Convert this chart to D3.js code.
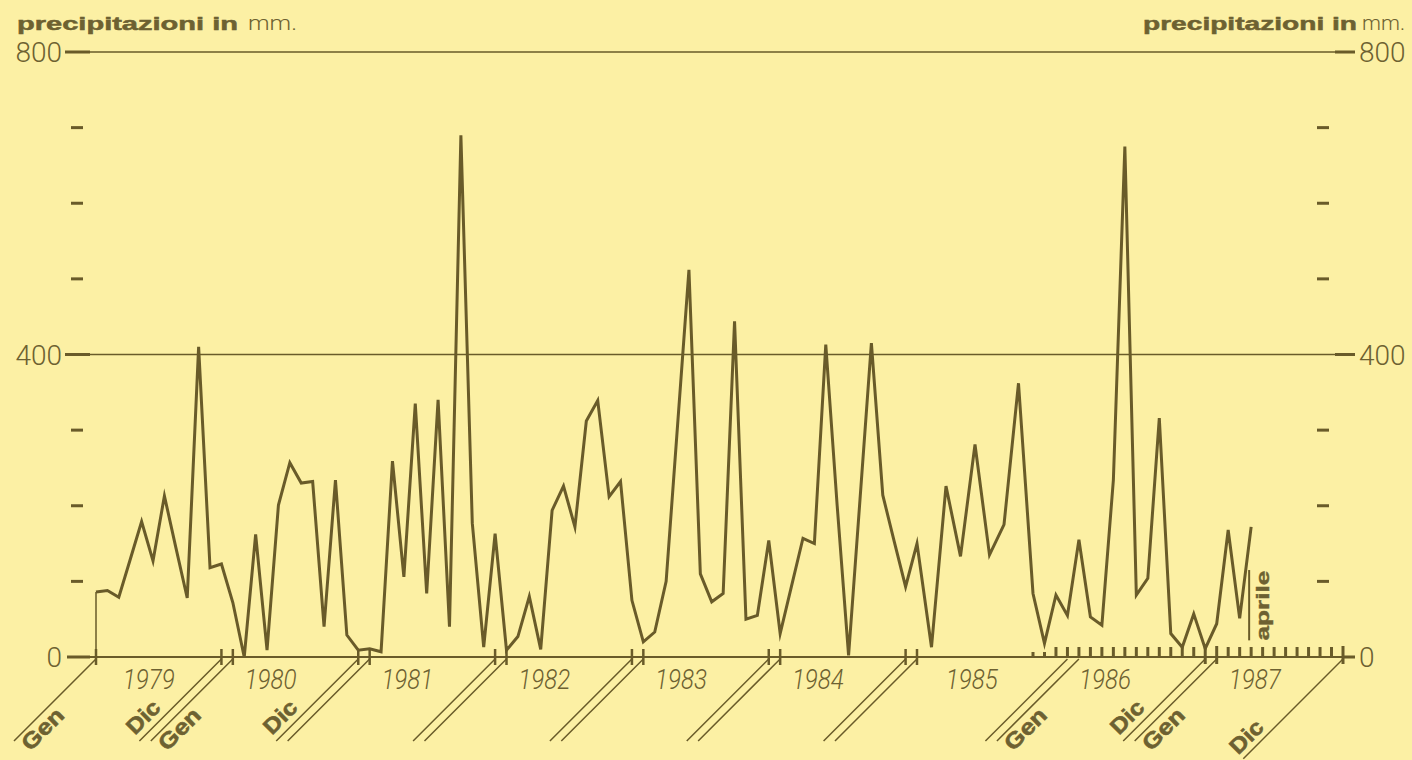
<!DOCTYPE html>
<html><head><meta charset="utf-8">
<script src="https://cdn.jsdelivr.net/npm/d3@7"></script>
<style>
html,body{margin:0;padding:0;background:#fcf0a4;}
svg{display:block;}
</style></head><body>
<svg id="c" width="1412" height="760"></svg>
<script>
// ---- data (monthly precipitation in mm, Jan 1979 - Apr 1987) ----
const years = [1979, 1980, 1981, 1982, 1983, 1984, 1985, 1986, 1987];
const rain1979 = [86, 88, 79, 129, 179, 127, 213, 145, 78, 410, 118, 123];
const rain1980 = [72, 0, 162, 9, 201, 257, 230, 232, 40, 234, 29, 9];
const rain1981 = [11, 7, 259, 106, 335, 84, 340, 40, 690, 177, 13, 163];
const rain1982 = [9, 27, 80, 10, 194, 226, 172, 312, 339, 212, 232, 75];
const rain1983 = [20, 33, 100, 306, 512, 110, 73, 84, 444, 50, 55, 154];
const rain1984 = [31, 94, 157, 150, 413, 200, 2, 208, 415, 214, 153, 93];
const rain1985 = [150, 13, 226, 133, 281, 135, 175, 362, 84, 18, 82, 55];
const rain1986 = [155, 53, 42, 234, 675, 82, 104, 316, 31, 13, 57, 11];
const rain1987 = [44, 168, 51, 172];
const yTicks = [0, 100, 200, 300, 400, 500, 600, 700, 800];
const yLabels = [0, 400, 800];
const titleBold = "precipitazioni in";
const titleUnit = "mm.";
const lastLabel = "aprile";
const janLabel = "Gen", decLabel = "Dic";

// ---- setup ----
const ink = "#695b29", textInk = "#6d6131";
const svg = d3.select("#c");
svg.append("rect").attr("width", 1412).attr("height", 760).attr("fill", "#fcf0a4");

const rain = [].concat(rain1979, rain1980, rain1981, rain1982, rain1983, rain1984, rain1985, rain1986, rain1987);
const x = d3.scaleLinear().domain([0, 72, 80, 107]).range([96, 917, 1033, 1343]);
const y = d3.scaleLinear().domain([0, 800]).range([657, 52]);

// ---- titles ----
function title(xb, wb, xu, wu) {
  svg.append("text").attr("x", xb).attr("y", 30).attr("fill", textInk)
    .attr("font-family", "Liberation Sans, Arial, sans-serif").attr("font-weight", 700)
    .attr("font-size", 19).attr("stroke", textInk).attr("stroke-width", 0.5)
    .attr("textLength", wb).attr("lengthAdjust", "spacingAndGlyphs").text(titleBold);
  svg.append("text").attr("x", xu).attr("y", 30).attr("fill", textInk)
    .attr("font-family", "Roboto, sans-serif").attr("font-weight", 300)
    .attr("font-size", 21).attr("textLength", wu).attr("lengthAdjust", "spacingAndGlyphs").text(titleUnit);
}
title(17, 221, 248, 49);
title(1143, 214, 1362, 43);

// ---- grid and y axis ----
const g = svg.append("g").attr("stroke", ink).attr("fill", "none");
[400, 800].forEach(v => g.append("line").attr("x1", 90).attr("x2", 1335).attr("y1", y(v)).attr("y2", y(v)).attr("stroke-width", 1.6));
g.append("line").attr("x1", 88).attr("x2", 1343).attr("y1", y(0)).attr("y2", y(0)).attr("stroke-width", 1.8);

yTicks.forEach(v => {
  const major = yLabels.includes(v);
  if (major) {
    g.append("line").attr("x1", v === 0 ? 67 : 65).attr("x2", 90).attr("y1", y(v)).attr("y2", y(v)).attr("stroke-width", 3);
    g.append("line").attr("x1", v === 0 ? 1343 : 1335).attr("x2", 1355).attr("y1", y(v)).attr("y2", y(v)).attr("stroke-width", 3);
  } else {
    g.append("line").attr("x1", 71).attr("x2", 83).attr("y1", y(v)).attr("y2", y(v)).attr("stroke-width", 3);
    g.append("line").attr("x1", 1317).attr("x2", 1329).attr("y1", y(v)).attr("y2", y(v)).attr("stroke-width", 3);
  }
});
yLabels.forEach(v => {
  svg.append("text").attr("x", 62).attr("y", y(v)).attr("dy", "0.36em").attr("text-anchor", "end")
    .attr("fill", textInk).attr("font-family", "Roboto, sans-serif").attr("font-weight", 300).attr("font-size", 28).text(v);
  svg.append("text").attr("x", 1359).attr("y", y(v)).attr("dy", "0.36em").attr("text-anchor", "start")
    .attr("fill", textInk).attr("font-family", "Roboto, sans-serif").attr("font-weight", 300).attr("font-size", 28).text(v);
});

// ---- x axis ticks ----
const tk = svg.append("g").attr("stroke", ink);
tk.append("line").attr("x1", x(0)).attr("x2", x(0)).attr("y1", 649).attr("y2", 665).attr("stroke-width", 2.5);
for (let i = 1; i <= 6; i++) {
  [12 * i - 1, 12 * i].forEach(m => tk.append("line").attr("x1", x(m)).attr("x2", x(m)).attr("y1", 649).attr("y2", 665).attr("stroke-width", 2.5));
}
d3.range(80, 108).forEach(m => {
  const tall = (m === 95 || m === 96 || m === 107);
  const short = m < 82;
  tk.append("line").attr("x1", x(m)).attr("x2", x(m))
    .attr("y1", short ? 652 : (tall ? 646 : 647)).attr("y2", tall ? 664 : 658).attr("stroke-width", 3);
});

// ---- diagonal month markers ----
const R2 = Math.SQRT2;
const dg = svg.append("g").attr("stroke", ink).attr("stroke-width", 1.5);
function diag(m, len) {
  const x0 = x(m);
  dg.append("line").attr("x1", x0).attr("y1", 659).attr("x2", x0 - len / R2).attr("y2", 659 + len / R2);
}
function diagLabel(m, txt, t, n, w) {
  const x0 = x(m);
  const cx = x0 - (t + n) / R2, cy = 658 + (t - n) / R2;
  svg.append("text").attr("transform", `translate(${cx},${cy}) rotate(-45)`)
    .attr("text-anchor", "middle").attr("dy", "0.36em").attr("fill", textInk)
    .attr("stroke", textInk).attr("stroke-width", 0.6)
    .attr("font-family", "Liberation Sans, Arial, sans-serif").attr("font-weight", 700).attr("font-size", 22)
    .attr("textLength", w).attr("lengthAdjust", "spacingAndGlyphs").text(txt);
}
diag(0, 116);
for (let i = 1; i <= 8; i++) { diag(12 * i - 1, 116); diag(12 * i, 116); }
diag(107, 141);
// labelled months: first and last of 1979, 1980, 1986, 1987
[0, 12, 84, 96].forEach(m => diagLabel(m, janLabel, 88, -12, 50));
[11, 23, 95].forEach(m => diagLabel(m, decLabel, 97, 14, 38));
diagLabel(107, decLabel, 124, 13, 38);

// ---- year labels ----
years.forEach((yr, i) => {
  const shift = i === 0 ? 15 : (yr === 1986 ? -12 : 0);
  svg.append("text").attr("x", x(12 * i + 5.5) - 25 + shift).attr("y", 689).attr("text-anchor", "middle")
    .attr("fill", textInk).attr("font-family", "Roboto, sans-serif").attr("font-weight", 300)
    .attr("font-style", "italic").attr("font-size", 27)
    .attr("textLength", 52).attr("lengthAdjust", "spacingAndGlyphs").text(yr);
});

// ---- data line ----
svg.append("line").attr("x1", x(0)).attr("x2", x(0)).attr("y1", y(0)).attr("y2", y(rain[0]))
  .attr("stroke", ink).attr("stroke-width", 1.5);
const line = d3.line().x((d, i) => x(i)).y(d => y(d));
svg.append("path").datum(rain).attr("d", line).attr("fill", "none")
  .attr("stroke", ink).attr("stroke-width", 3).attr("stroke-linejoin", "miter").attr("stroke-miterlimit", 6);

// ---- last month marker ----
const last = rain.length - 1;
svg.append("line").attr("x1", x(last) - 2).attr("x2", x(last) - 2).attr("y1", y(115)).attr("y2", y(22))
  .attr("stroke", ink).attr("stroke-width", 2);
svg.append("text").attr("transform", `translate(${x(last) + 11},${y(68)}) rotate(-90)`)
  .attr("text-anchor", "middle").attr("dy", "0.36em").attr("fill", textInk)
  .attr("stroke", textInk).attr("stroke-width", 0.4)
  .attr("font-family", "Liberation Sans, Arial, sans-serif").attr("font-weight", 700).attr("font-size", 18)
  .attr("textLength", 70).attr("lengthAdjust", "spacingAndGlyphs").text(lastLabel);
</script>
</body></html>
